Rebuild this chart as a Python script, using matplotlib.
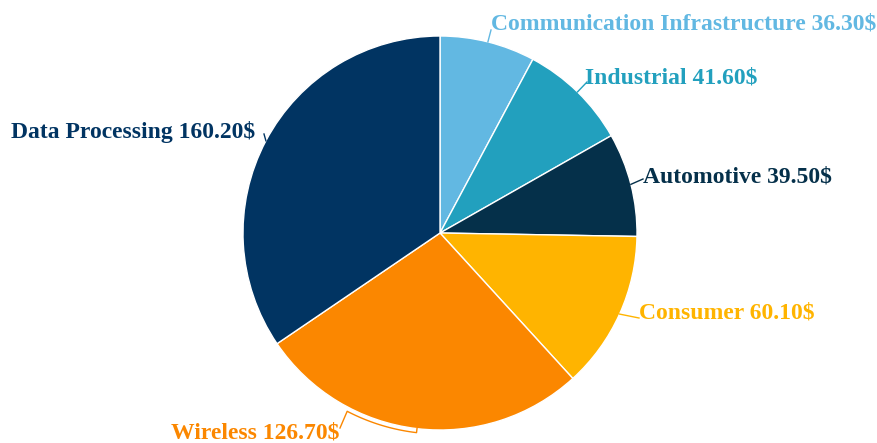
import numpy as np
import matplotlib
matplotlib.use("Agg")
import matplotlib.pyplot as plt

# revenue by segment
segments = ["Communication Infrastructure", "Industrial", "Automotive",
            "Consumer", "Wireless", "Data Processing"]
revenue = [36.30, 41.60, 39.50, 60.10, 126.70, 160.20]
colors = ["#62b8e2", "#22a0be", "#05304a", "#ffb400", "#fb8700", "#013462"]

W, H = 878, 443
CX, CY, R = 440, 233, 197

fig = plt.figure(figsize=(W / 100, H / 100), dpi=100)
ax = fig.add_axes([0, 0, 1, 1])

ax.pie(revenue, colors=colors, startangle=90, counterclock=False,
       center=(CX, H - CY), radius=R,
       wedgeprops=dict(edgecolor="white", linewidth=1))
ax.set_xlim(0, W)
ax.set_ylim(0, H)
ax.set_aspect("equal")
ax.axis("off")

# label anchor (pixel coords, y down) and text alignment
label_pos = [
    (491, 24, "left"),
    (585, 78, "left"),
    (643, 177, "left"),
    (639, 313, "left"),
    (339, 433, "right"),
    (255, 132, "right"),
]
line_end = [(491, 30), (587, 82), (643, 179), (639, 318), (340, 428), (264, 134)]

total = sum(revenue)
cum = np.cumsum([0] + revenue)
for i, name in enumerate(segments):
    mid = (cum[i] + cum[i + 1]) / 2 / total * 360
    ang = np.deg2rad(90 - mid)
    x0 = CX + R * np.cos(ang)
    y0 = CY - R * np.sin(ang)
    if name == "Wireless":
        # short arc hugging the pie edge before turning to the label
        a = np.deg2rad(np.linspace(90 - mid, 242.5 - 360, 30))
        xs = [x0] + list(CX + (R + 4) * np.cos(a)) + [line_end[i][0]]
        ys = [y0] + list(CY - (R + 4) * np.sin(a)) + [line_end[i][1]]
    else:
        xs = [x0, line_end[i][0]]
        ys = [y0, line_end[i][1]]
    ax.plot(xs, [H - y for y in ys], color=colors[i], lw=1)
    tx, ty, ha = label_pos[i]
    ax.text(tx, H - ty, f"{name} {revenue[i]:.2f}$", color=colors[i],
            ha=ha, va="center", fontsize=17, fontweight="bold",
            family="Liberation Serif")

fig.savefig("out.png", dpi=100)
